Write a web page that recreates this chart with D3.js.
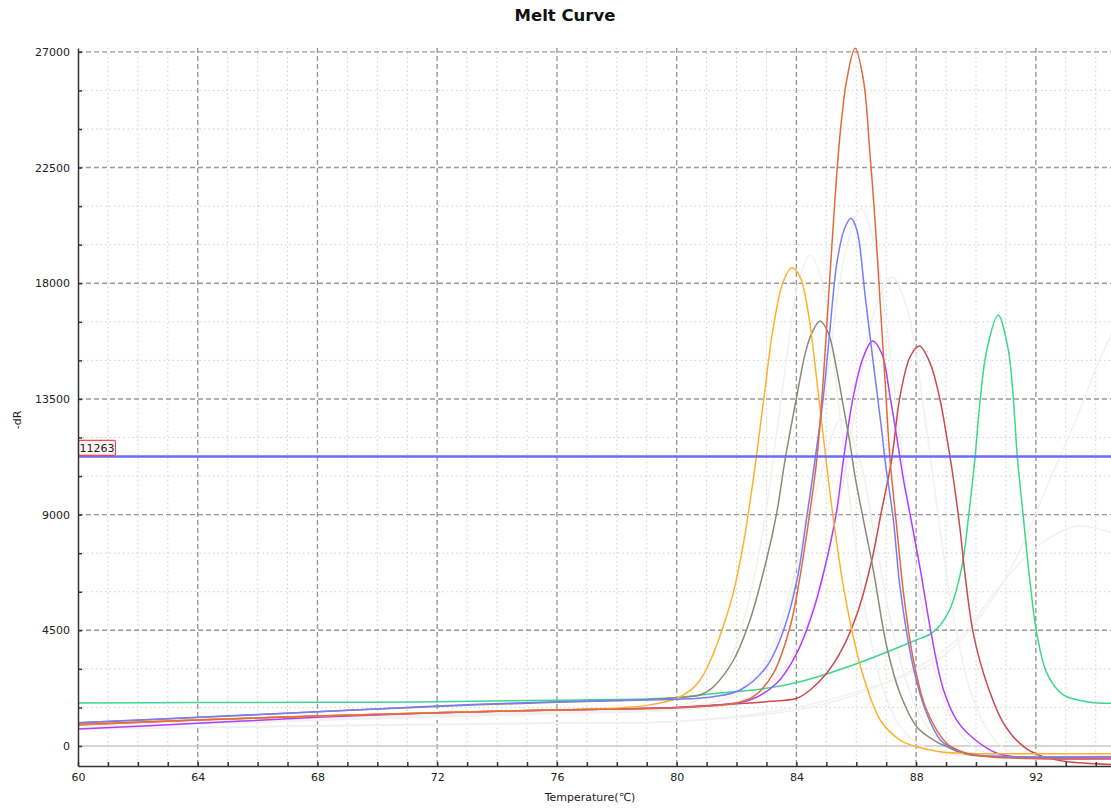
<!DOCTYPE html>
<html>
<head>
<meta charset="utf-8">
<title>Melt Curve</title>
<script src="https://cdn.jsdelivr.net/npm/d3@7"></script>
<style>
	body { margin: 0; background: #fff; }
	.axis text { font-family: "DejaVu Sans", sans-serif; font-size: 11px; fill: #222; }
	.axis path, .axis line { stroke: #333; stroke-width: 1.5; }
	.label { font-family: "DejaVu Sans", sans-serif; font-size: 11px; fill: #222; }
	.title { font-family: "DejaVu Sans", sans-serif; font-size: 16.5px; font-weight: bold; fill: #111; }
</style>
</head>
<body>
<div id="chart"></div>
<script>

// tick labels
var xTicks = [60, 64, 68, 72, 76, 80, 84, 88, 92];
var yTicks = [0, 4500, 9000, 13500, 18000, 22500, 27000];
var threshold = 11263;

// [temperature, -dR]
var orangeCurve = [[60, 830], [64, 1020], [68, 1170], [72, 1300], [76, 1410], [78, 1480], [79, 1580], [80, 1850],
	[80.5, 2200], [80.78, 2567], [81.1, 3250], [81.45, 4300], [81.88, 5900], [82.22, 7800], [82.55, 10300],
	[82.9, 13400], [83.23, 16300], [83.57, 18100], [83.85, 18600], [84.12, 18250], [84.4, 16830], [84.68, 14235],
	[84.9, 12030], [85.07, 10346], [85.24, 8790], [85.57, 6196], [85.9, 4251], [86.24, 2695], [86.8, 1011],
	[87.46, 233], [88.02, -26], [88.8, -222], [89.5, -280], [91, -300], [94.6, -300]];

var grayCurve = [[60, 900], [64, 1110], [68, 1330], [72, 1540], [76, 1700], [78, 1760], [79, 1800], [80, 1880],
	[80.78, 1984], [81.23, 2306], [81.9, 3345], [82.45, 4900], [83.0, 7234], [83.34, 9050], [83.62, 11123],
	[84.01, 13587], [84.3, 15300], [84.51, 16050], [84.79, 16530], [85.07, 16050], [85.35, 14624], [85.57, 13197],
	[85.79, 11773], [85.96, 10474], [86.24, 8790], [86.57, 6845], [87.02, 3862], [87.46, 2050], [88.02, 751],
	[88.58, 233], [89.02, -26], [89.6, -300], [90.5, -400], [94.6, -430]];

var blueCurve = [[60, 906], [64, 1115], [68, 1335], [72, 1556], [76, 1724], [78, 1780], [80, 1815], [81.23, 1917],
	[82.12, 2178], [83.0, 3084], [83.57, 4500], [84.01, 6400], [84.35, 8918], [84.62, 11123], [84.9, 13587],
	[85.12, 16180], [85.35, 18773], [85.6, 20100], [85.82, 20530], [86.02, 20069], [86.3, 17475], [86.57, 14884],
	[86.85, 12290], [86.96, 11123], [87.24, 8790], [87.46, 6196], [87.9, 3084], [88.35, 1272], [88.8, 250],
	[89.3, -150], [90, -350], [91, -410], [94.6, -420]];

var coralCurve = [[60, 844], [64, 1011], [68, 1167], [72, 1297], [76, 1400], [80, 1490], [81.9, 1650], [82.56, 1917],
	[83.23, 2827], [83.79, 4640], [84.12, 6585], [84.46, 9179], [84.68, 11123], [84.9, 14300], [85.12, 18300],
	[85.29, 21300], [85.46, 23800], [85.68, 25900], [85.96, 27140], [86.24, 25903], [86.46, 23000], [86.63, 20400],
	[86.8, 17200], [86.96, 14235], [87.13, 11123], [87.35, 8530], [87.58, 5939], [87.91, 3345], [88.35, 1400],
	[89.02, 105], [89.6, -250], [90.5, -430], [94.6, -480]];

var purpleCurve = [[60, 661], [64, 882], [68, 1115], [72, 1297], [76, 1400], [80, 1500], [81.34, 1595], [82.45, 1789],
	[83.34, 2439], [84.01, 3605], [84.57, 5290], [85.01, 7234], [85.35, 9179], [85.57, 11123], [85.9, 13587],
	[86.24, 15141], [86.54, 15752], [86.85, 15273], [87.13, 13587], [87.35, 12030], [87.58, 10346], [87.8, 9000],
	[88.15, 6800], [88.5, 4400], [88.91, 2200], [89.36, 1000], [89.91, 300], [90.7, -284], [91.5, -450], [94.6, -500]];

var redCurve = [[60, 817], [64, 1011], [68, 1167], [72, 1297], [76, 1400], [80, 1500], [81.34, 1595], [83.0, 1723],
	[84.01, 1855], [84.46, 2178], [85.01, 2827], [85.57, 3862], [86.07, 5290], [86.52, 7234], [86.85, 9179],
	[87.18, 11123], [87.46, 13587], [87.8, 15141], [88.11, 15557], [88.47, 14884], [88.8, 13457], [89.02, 12030],
	[89.25, 10346], [89.47, 8401], [89.64, 6600], [89.91, 4383], [90.36, 2439], [90.92, 883], [91.59, -26],
	[92.24, -415], [93, -600], [94.6, -720]];

var greenCurve = [[60, 1670], [64, 1690], [68, 1700], [72, 1720], [76, 1780], [80, 1880], [80.78, 1984], [82, 2120],
	[83.0, 2244], [84.12, 2501], [85.24, 2890], [86.35, 3345], [87.46, 3862], [88.0, 4123], [88.47, 4350],
	[88.8, 4700], [89.14, 5350], [89.53, 6974], [89.75, 8918], [89.97, 11253], [90.14, 13457], [90.36, 15402],
	[90.74, 16763], [91.08, 15402], [91.25, 13457], [91.38, 11253], [91.58, 8918], [91.81, 6328], [92.03, 4383],
	[92.37, 2827], [92.92, 1984], [93.81, 1700], [94.6, 1660]];

// pale wells in the background
var pale1 = [[60, 760], [68, 1100], [76, 1350], [80, 1550], [81, 2000], [81.8, 3400], [82.4, 5600], [82.9, 8500],
	[83.3, 11800], [83.7, 15300], [84.1, 18200], [84.46, 19100], [84.8, 18300], [85.1, 16300], [85.4, 13400],
	[85.7, 10400], [86.0, 7600], [86.4, 4600], [86.9, 2200], [87.5, 700], [88.2, 0], [89, -300], [94.6, -380]];
var pale2 = [[60, 700], [68, 1050], [76, 1300], [80, 1450], [81.5, 1800], [82.5, 2600], [83.3, 4200], [84, 7000],
	[84.6, 10800], [85.1, 15000], [85.6, 19000], [86.15, 20900], [86.6, 19600], [87, 16500], [87.4, 12600],
	[87.8, 8700], [88.2, 5400], [88.7, 2600], [89.3, 800], [90, -100], [91, -380], [94.6, -420]];
var pale3 = [[60, 690], [68, 1000], [76, 1250], [80, 1400], [82, 1700], [83.3, 2600], [84.2, 4300], [85, 7200],
	[85.6, 10500], [86.1, 14000], [86.6, 16900], [87.2, 18250], [87.7, 17000], [88.1, 14400], [88.5, 11000],
	[88.9, 7600], [89.3, 4700], [89.8, 2200], [90.4, 600], [91.2, -250], [94.6, -450]];
var pale4 = [[60, 720], [76, 1300], [80, 1500], [82, 2000], [83, 3200], [84, 6500], [84.8, 10500], [85.5, 12700],
	[86.1, 11200], [86.7, 7600], [87.3, 4100], [88, 1500], [88.8, 200], [90, -300], [94.6, -400]];
var pale5 = [[60, 680], [68, 800], [76, 900], [80, 950], [84, 1500], [86, 2100], [88, 2900], [89.02, 3605],
	[90.14, 5030], [91.25, 7106], [91.81, 8529], [92.37, 10085], [93.47, 13068], [94.03, 14752], [94.6, 16200]];
var pale6 = [[60, 660], [76, 880], [80, 950], [84, 1400], [86, 2000], [88.47, 3345], [89.58, 4383], [90.69, 6067],
	[92.03, 7751], [93.36, 8550], [94.6, 8270]];

var paleColor = "#f1f1f1";
var series = [
	{ values: pale1, color: paleColor }, { values: pale2, color: paleColor }, { values: pale3, color: paleColor },
	{ values: pale4, color: paleColor }, { values: pale5, color: paleColor }, { values: pale6, color: paleColor },
	{ values: greenCurve, color: "#3dd68c" },
	{ values: redCurve, color: "#cc4a4a" },
	{ values: purpleCurve, color: "#b43cff" },
	{ values: grayCurve, color: "#8a8a78" },
	{ values: orangeCurve, color: "#ffb02e" },
	{ values: blueCurve, color: "#7a7aff" },
	{ values: coralCurve, color: "#e06a3c" }
];

MeltChart = function (_parentElement) {
	this.parentElement = _parentElement;
	this.initVis();
}

MeltChart.prototype.initVis = function () {
	var vis = this;

	vis.margin = { top: 48, right: 0, bottom: 45, left: 78 };
	vis.width = 1111 - vis.margin.left - vis.margin.right;
	vis.height = 811 - vis.margin.top - vis.margin.bottom;

	vis.svg = d3.select("#" + vis.parentElement).append("svg")
		.attr("width", 1111)
		.attr("height", 811)
		.append("g")
		.attr("transform", "translate(" + vis.margin.left + "," + vis.margin.top + ")");

	vis.svg.append("defs").append("clipPath")
		.attr("id", "clip")
		.append("rect")
		.attr("x", 0)
		.attr("y", -10)
		.attr("width", vis.width)
		.attr("height", vis.height + 10);

	vis.x = d3.scaleLinear()
		.domain([60, 94.51])
		.range([0, vis.width]);

	vis.y = d3.scaleLinear()
		.domain([-778, 27150])
		.range([vis.height, 0]);

	// minor grid (dotted)
	var grid = vis.svg.append("g").attr("class", "grid");
	grid.selectAll(".vminor")
		.data(d3.range(61, 95).filter(d => xTicks.indexOf(d) < 0))
		.enter().append("line")
		.attr("x1", d => vis.x(d)).attr("x2", d => vis.x(d))
		.attr("y1", 0).attr("y2", vis.height)
		.attr("stroke", "#cfcfcf").attr("stroke-dasharray", "1.5,3");
	grid.selectAll(".hminor")
		.data(d3.range(1500, 27001, 1500).filter(d => yTicks.indexOf(d) < 0))
		.enter().append("line")
		.attr("x1", 0).attr("x2", vis.width)
		.attr("y1", d => vis.y(d)).attr("y2", d => vis.y(d))
		.attr("stroke", "#cfcfcf").attr("stroke-dasharray", "1.5,3");

	// major grid (dashed)
	grid.selectAll(".vmajor")
		.data(xTicks.slice(1))
		.enter().append("line")
		.attr("x1", d => vis.x(d)).attr("x2", d => vis.x(d))
		.attr("y1", 0).attr("y2", vis.height)
		.attr("stroke", "#999").attr("stroke-width", 1.4).attr("stroke-dasharray", "5,3");
	grid.selectAll(".hmajor")
		.data(yTicks.slice(1))
		.enter().append("line")
		.attr("x1", 0).attr("x2", vis.width)
		.attr("y1", d => vis.y(d)).attr("y2", d => vis.y(d))
		.attr("stroke", "#999").attr("stroke-width", 1.4).attr("stroke-dasharray", "5,3");

	// zero line
	grid.append("line")
		.attr("x1", 0).attr("x2", vis.width)
		.attr("y1", vis.y(0)).attr("y2", vis.y(0))
		.attr("stroke", "#c8c8c8").attr("stroke-width", 1.3);

	// curves
	vis.line = d3.line()
		.x(d => vis.x(d[0]))
		.y(d => vis.y(d[1]))
		.curve(d3.curveCatmullRom.alpha(0.5));

	vis.svg.append("g")
		.attr("clip-path", "url(#clip)")
		.selectAll("path")
		.data(series)
		.enter().append("path")
		.attr("d", d => vis.line(d.values))
		.attr("fill", "none")
		.attr("stroke", d => d.color)
		.attr("stroke-width", 1.5);

	// threshold
	vis.svg.append("line")
		.attr("x1", 0).attr("x2", vis.width)
		.attr("y1", vis.y(threshold)).attr("y2", vis.y(threshold))
		.attr("stroke", "#6b6bf5").attr("stroke-width", 2.5);

	vis.svg.append("rect")
		.attr("x", 0.5).attr("y", vis.y(threshold) - 16)
		.attr("width", 37).attr("height", 15).attr("rx", 1.5)
		.attr("fill", "#fff4f4").attr("stroke", "#f04a4a").attr("stroke-width", 1.2);
	vis.svg.append("text")
		.attr("class", "label")
		.attr("x", 1.5).attr("y", vis.y(threshold) - 4.5)
		.text(threshold);

	// axes
	vis.xAxis = d3.axisBottom(vis.x)
		.tickValues(d3.range(60, 95))
		.tickSize(-4)
		.tickSizeOuter(0)
		.tickPadding(7)
		.tickFormat(d => xTicks.indexOf(d) >= 0 ? d : "");

	vis.yAxis = d3.axisLeft(vis.y)
		.tickValues(d3.range(0, 27001, 1500))
		.tickSize(-4)
		.tickSizeOuter(0)
		.tickPadding(8)
		.tickFormat(d => yTicks.indexOf(d) >= 0 ? d : "");

	vis.svg.append("g")
		.attr("class", "x-axis axis")
		.attr("transform", "translate(0," + vis.height + ")")
		.call(vis.xAxis);

	vis.svg.append("g")
		.attr("class", "y-axis axis")
		.call(vis.yAxis);

	// labels
	d3.select("#" + vis.parentElement + " svg").append("text")
		.attr("class", "title")
		.attr("text-anchor", "middle")
		.attr("x", 565)
		.attr("y", 21)
		.text("Melt Curve");

	vis.svg.append("text")
		.attr("class", "label")
		.attr("text-anchor", "middle")
		.attr("x", 590 - vis.margin.left)
		.attr("y", vis.height + 35)
		.text("Temperature(℃)");

	vis.svg.append("text")
		.attr("class", "label")
		.attr("text-anchor", "middle")
		.attr("transform", "translate(" + (21 - vis.margin.left) + "," + (420 - vis.margin.top) + ") rotate(-90)")
		.text("-dR");
}

new MeltChart("chart");

</script>
</body>
</html>
